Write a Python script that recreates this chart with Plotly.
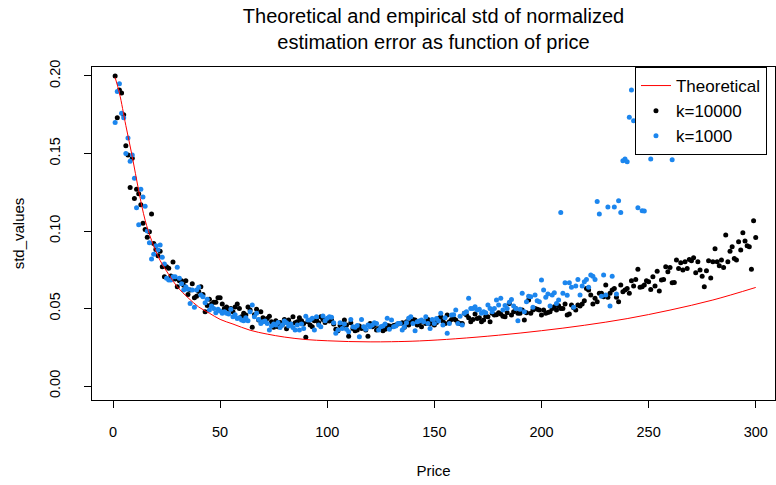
import plotly.graph_objects as go

# ---------------- data ----------------
black_price = list(range(1, 301))
black_std = [
    0.200, 0.173, 0.191, 0.189, 0.175, 0.155, 0.149, 0.128, 0.147, 0.121,
    0.127, 0.124, 0.117, 0.105, 0.101, 0.096, 0.0995, 0.111, 0.092, 0.088,
    0.084, 0.087, 0.077, 0.0705, 0.077, 0.076, 0.071, 0.080, 0.069, 0.064,
    0.068, 0.068, 0.065, 0.068, 0.059, 0.062, 0.066, 0.057, 0.058, 0.061,
    0.064, 0.059, 0.048, 0.052, 0.056, 0.053, 0.054, 0.054, 0.057, 0.057,
    0.053, 0.050, 0.051, 0.0495, 0.050, 0.048, 0.051, 0.053, 0.050, 0.0447,
    0.047, 0.0458, 0.051, 0.049, 0.038, 0.046, 0.0495, 0.0426, 0.048, 0.044,
    0.042, 0.0436, 0.045, 0.0415, 0.038, 0.0421, 0.0383, 0.041, 0.0394, 0.043,
    0.037, 0.0426, 0.040, 0.0447, 0.0409, 0.0415, 0.044, 0.0421, 0.0404, 0.0314,
    0.0415, 0.0394, 0.0383, 0.0421, 0.0426, 0.0409, 0.0447, 0.043, 0.041, 0.0426,
    0.042, 0.0426, 0.040, 0.0366, 0.0357, 0.039, 0.0379, 0.0426, 0.0394, 0.0322,
    0.0409, 0.0372, 0.0357, 0.0361, 0.0387, 0.0372, 0.038, 0.0361, 0.0322, 0.0404,
    0.0383, 0.039, 0.0361, 0.0372, 0.0379, 0.0357, 0.0366, 0.039, 0.0387, 0.0383,
    0.039, 0.0394, 0.040, 0.0404, 0.0409, 0.038, 0.0415, 0.0394, 0.041, 0.043,
    0.0426, 0.0394, 0.0409, 0.0383, 0.0415, 0.0404, 0.043, 0.0404, 0.0415, 0.0394,
    0.041, 0.0436, 0.0447, 0.042, 0.0404, 0.0458, 0.0415, 0.043, 0.0436, 0.0426,
    0.041, 0.0404, 0.0404, 0.0469, 0.0458, 0.044, 0.0415, 0.043, 0.0464, 0.0436,
    0.044, 0.0415, 0.0426, 0.045, 0.0447, 0.0415, 0.0469, 0.0458, 0.046, 0.0473,
    0.0464, 0.045, 0.0447, 0.0473, 0.0533, 0.0458, 0.048, 0.0501, 0.0469, 0.047,
    0.049, 0.0426, 0.0473, 0.0555, 0.0469, 0.049, 0.0501, 0.0495, 0.049, 0.0458,
    0.049, 0.0469, 0.0475, 0.048, 0.0501, 0.0512, 0.049, 0.0518, 0.0501, 0.050,
    0.0529, 0.0458, 0.0464, 0.0522, 0.0505, 0.049, 0.0522, 0.0516, 0.053, 0.055,
    0.063, 0.0619, 0.0587, 0.0529, 0.0566, 0.0544, 0.0598, 0.0598, 0.0576, 0.0652,
    0.0572, 0.0598, 0.0619, 0.063, 0.0572, 0.0544, 0.0652, 0.0608, 0.0619, 0.063,
    0.0598, 0.0679, 0.0645, 0.0688, 0.0753, 0.0637, 0.0641, 0.0652, 0.068, 0.0673,
    0.0623, 0.0705, 0.0645, 0.0741, 0.0613, 0.0684, 0.0688, 0.077, 0.0738, 0.0765,
    0.0666, 0.0668, 0.0813, 0.0759, 0.0796, 0.0748, 0.0802, 0.0759, 0.0817, 0.0808,
    0.0828, 0.0731, 0.0802, 0.0748, 0.0709, 0.064, 0.0744, 0.0808, 0.0697, 0.0802,
    0.0886, 0.0802, 0.0776, 0.0813, 0.0765, 0.0974, 0.0802, 0.0869, 0.0899, 0.0823,
    0.0813, 0.0931, 0.0877, 0.0989, 0.0935, 0.0905, 0.0899, 0.0753, 0.1066, 0.0959,
]

blue_price = list(range(1, 244)) + [245, 247, 248, 251, 261]
blue_std = [
    0.170, 0.190, 0.195, 0.176, 0.173, 0.150, 0.160, 0.145, 0.149, 0.134,
    0.115, 0.104, 0.127, 0.122, 0.116, 0.100, 0.0925, 0.082, 0.085, 0.0905,
    0.0877, 0.091, 0.083, 0.0787, 0.0695, 0.0684, 0.0684, 0.0705, 0.0705, 0.0766,
    0.0695, 0.066, 0.062, 0.064, 0.0624, 0.0533, 0.062, 0.0508, 0.062, 0.0637,
    0.0587, 0.0576, 0.0537, 0.056, 0.049, 0.0516, 0.050, 0.0473, 0.0495, 0.0484,
    0.0469, 0.048, 0.047, 0.0464, 0.0495, 0.0447, 0.046, 0.0436, 0.044, 0.0426,
    0.0421, 0.044, 0.0421, 0.048, 0.0522, 0.0447, 0.0469, 0.043, 0.0404, 0.0415,
    0.042, 0.0404, 0.0361, 0.0387, 0.040, 0.0394, 0.041, 0.0378, 0.0394, 0.042,
    0.0409, 0.0387, 0.040, 0.0378, 0.0361, 0.0394, 0.0361, 0.040, 0.0372, 0.0451,
    0.0426, 0.0426, 0.0437, 0.0361, 0.0447, 0.0394, 0.0383, 0.0452, 0.0421, 0.0437,
    0.0447, 0.0443, 0.0409, 0.034, 0.0361, 0.0409, 0.0372, 0.040, 0.0366, 0.0351,
    0.043, 0.0383, 0.0379, 0.039, 0.0318, 0.043, 0.0383, 0.0366, 0.0394, 0.0383,
    0.0394, 0.0409, 0.0404, 0.0361, 0.0383, 0.0387, 0.040, 0.0437, 0.0366, 0.0426,
    0.0383, 0.0387, 0.0404, 0.0404, 0.0361, 0.0383, 0.0409, 0.0437, 0.0447, 0.0404,
    0.0357, 0.0415, 0.042, 0.0426, 0.0415, 0.0447, 0.0404, 0.0372, 0.043, 0.0404,
    0.0436, 0.042, 0.0469, 0.0394, 0.044, 0.034, 0.0404, 0.0458, 0.046, 0.049,
    0.0404, 0.045, 0.0394, 0.0469, 0.048, 0.0566, 0.0501, 0.0501, 0.0512, 0.049,
    0.0495, 0.047, 0.048, 0.0473, 0.0522, 0.050, 0.048, 0.0501, 0.0555, 0.0522,
    0.0566, 0.049, 0.052, 0.0501, 0.054, 0.0559, 0.0516, 0.050, 0.0421, 0.0495,
    0.0598, 0.048, 0.0544, 0.058, 0.0576, 0.0508, 0.0587, 0.055, 0.0544, 0.0684,
    0.0619, 0.0572, 0.0594, 0.0516, 0.0587, 0.0602, 0.0533, 0.0555, 0.112, 0.0598,
    0.0667, 0.0585, 0.0667, 0.0637, 0.0508, 0.0645, 0.0688, 0.0587, 0.0645, 0.0673,
    0.0688, 0.0637, 0.0716, 0.0709, 0.0688, 0.119, 0.111, 0.058, 0.0716, 0.0587,
    0.1155, 0.0516, 0.0709, 0.1155, 0.0594, 0.1196, 0.112, 0.1454, 0.1465, 0.1447,
    0.1734, 0.191, 0.1712,
    0.115, 0.1131, 0.1129, 0.1465, 0.146,
]

theo_price = [1, 3, 6, 9, 12, 15, 18, 22, 26, 30, 35, 40, 45, 50, 56, 64, 72, 80, 90,
              100, 110, 120, 130, 143, 160, 180, 200, 220, 240, 260, 280, 300]
theo_std = [0.199, 0.189, 0.168, 0.148, 0.126, 0.107, 0.094, 0.081, 0.072, 0.064,
            0.057, 0.051, 0.047, 0.043, 0.040, 0.036, 0.0335, 0.0316, 0.0300,
            0.0292, 0.0287, 0.0285, 0.0286, 0.0291, 0.0305, 0.0328, 0.0357,
            0.0392, 0.0435, 0.0490, 0.0555, 0.0636]

x_ticks = [0, 50, 100, 150, 200, 250, 300]
y_ticks = [0.00, 0.05, 0.10, 0.15, 0.20]

FONT = "Liberation Sans, Arial, sans-serif"

fig = go.Figure()
fig.add_trace(go.Scatter(x=black_price, y=black_std, mode="markers", name="k=10000",
                         marker=dict(color="black", size=5), legendrank=2))
fig.add_trace(go.Scatter(x=blue_price, y=blue_std, mode="markers", name="k=1000",
                         marker=dict(color="#1C86EE", size=5), legendrank=3))
fig.add_trace(go.Scatter(x=theo_price, y=theo_std, mode="lines", name="Theoretical",
                         line=dict(color="red", width=1, shape="spline"), legendrank=1))

fig.update_layout(
    width=776, height=485,
    margin=dict(l=92, r=1, t=67, b=85),
    paper_bgcolor="white", plot_bgcolor="white",
    font=dict(family=FONT, color="black", size=14.5),
    title=dict(text="Theoretical and empirical std of normalized<br>estimation error as function of price",
               x=0.5, xref="paper", xanchor="center", y=0.953, yanchor="middle",
               font=dict(size=20, family=FONT)),
    legend=dict(x=0.795, y=1, xanchor="left", yanchor="top", bordercolor="black",
                borderwidth=1, bgcolor="white", font=dict(size=17, family=FONT),
                tracegroupgap=0),
    xaxis=dict(range=[-9.8, 309], tickvals=x_ticks, ticktext=[str(v) for v in x_ticks],
               showgrid=False, zeroline=False, showline=True, mirror=True,
               linecolor="black", linewidth=1, ticks="outside", ticklen=7,
               tickcolor="black", ticklabelstandoff=12,
               title=dict(text="Price", standoff=26, font=dict(size=15))),
    yaxis=dict(range=[-0.009, 0.2058], tickvals=y_ticks,
               ticktext=["%.2f" % v for v in y_ticks], tickangle=-90,
               showgrid=False, zeroline=False, showline=True, mirror=True,
               linecolor="black", linewidth=1, ticks="outside", ticklen=7,
               tickcolor="black", ticklabelstandoff=18,
               title=dict(text="std_values", standoff=18, font=dict(size=15))),
)

fig.write_html("out.html")
